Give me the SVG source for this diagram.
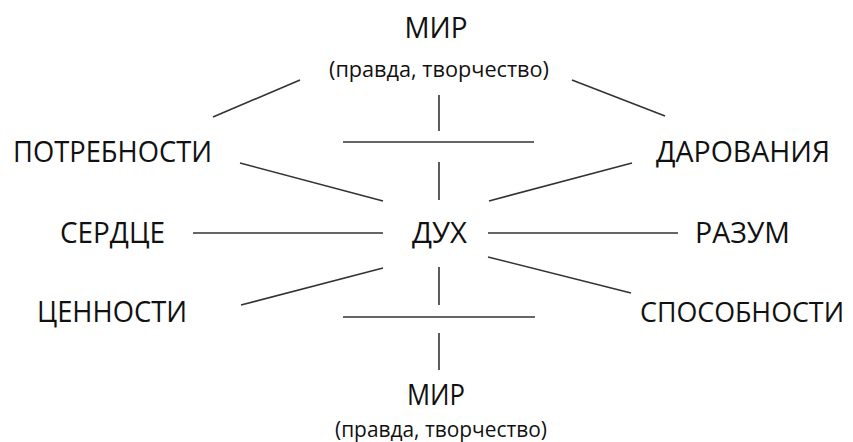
<svg xmlns="http://www.w3.org/2000/svg" width="853" height="442" viewBox="0 0 853 442">
<style>
.t{font-family:"Open Sans","Noto Sans","DejaVu Sans",sans-serif;fill:#111;text-anchor:middle}
.b{font-size:29px}
.s{font-size:21px}
.c line{stroke:#333;stroke-width:1.6;fill:none}
</style>
<rect width="853" height="442" fill="#fff"/>
<g class="c" id="connectors">
<line x1="300" y1="80" x2="213" y2="117"/>
<line x1="572" y1="80" x2="665" y2="116"/>
<line x1="439" y1="95" x2="439" y2="131"/>
<line x1="343" y1="142" x2="534" y2="142"/>
<line x1="439" y1="162" x2="439" y2="200"/>
<line x1="240" y1="163" x2="383" y2="201"/>
<line x1="632" y1="163" x2="489" y2="201"/>
<line x1="193" y1="233" x2="383" y2="233"/>
<line x1="488" y1="233" x2="678" y2="233"/>
<line x1="383" y1="268" x2="241" y2="305"/>
<line x1="439" y1="267" x2="439" y2="305"/>
<line x1="343" y1="317" x2="535" y2="317"/>
<line x1="488" y1="257" x2="631" y2="293"/>
<line x1="439" y1="333" x2="439" y2="370"/>
</g>
<g id="mir-top">
<text class="t b" x="436" y="38" textLength="63" lengthAdjust="spacingAndGlyphs">МИР</text>
<text class="t s" x="439" y="77" textLength="220" lengthAdjust="spacingAndGlyphs">(правда, творчество)</text>
</g>
<g id="potrebnosti"><text class="t b" x="112.5" y="162" textLength="199" lengthAdjust="spacingAndGlyphs">ПОТРЕБНОСТИ</text></g>
<g id="darovaniya"><text class="t b" x="743" y="162" textLength="174" lengthAdjust="spacingAndGlyphs">ДАРОВАНИЯ</text></g>
<g id="serdce"><text class="t b" x="112.5" y="243" textLength="105" lengthAdjust="spacingAndGlyphs">СЕРДЦЕ</text></g>
<g id="duh"><text class="t b" x="439.5" y="243" textLength="55" lengthAdjust="spacingAndGlyphs">ДУХ</text></g>
<g id="razum"><text class="t b" x="742.5" y="243" textLength="95" lengthAdjust="spacingAndGlyphs">РАЗУМ</text></g>
<g id="cennosti"><text class="t b" x="112" y="322" textLength="150" lengthAdjust="spacingAndGlyphs">ЦЕННОСТИ</text></g>
<g id="sposobnosti"><text class="t" style="font-size:27px" x="742" y="322" textLength="204" lengthAdjust="spacingAndGlyphs">СПОСОБНОСТИ</text></g>
<g id="mir-bottom">
<text class="t b" x="436" y="405" textLength="58" lengthAdjust="spacingAndGlyphs">МИР</text>
<text class="t s" x="441" y="437" textLength="212" lengthAdjust="spacingAndGlyphs">(правда, творчество)</text>
</g>
</svg>
